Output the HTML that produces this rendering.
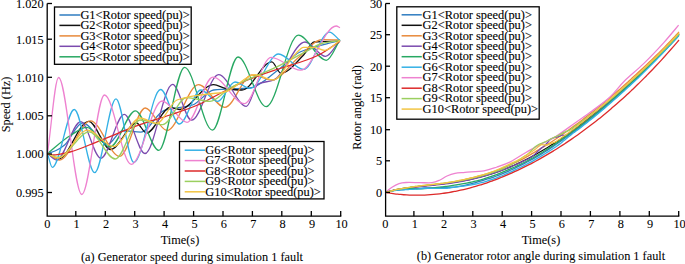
<!DOCTYPE html><html><head><meta charset="utf-8"><style>html,body{margin:0;padding:0;background:#fff;overflow:hidden}svg{display:block}</style></head><body>
<svg width="685" height="264" viewBox="0 0 685 264" font-family='"Liberation Serif", serif' font-size="12.3">
<rect width="685" height="264" fill="#fff"/>
<style>text{stroke:#000;stroke-width:0.06;} text.lg{stroke-width:0.12}</style>
<path d="M47.50,153.50 C50.33,152.50 53.17,151.79 56.00,150.50 C58.87,149.20 61.73,147.33 64.60,145.00 C70.57,140.15 76.53,122.80 82.50,122.80 C90.87,122.80 99.23,144.20 107.60,144.20 C112.63,144.20 117.67,130.60 122.70,130.60 C128.77,130.60 134.83,132.10 140.90,132.10 C148.67,132.10 156.43,112.78 164.20,110.30 C173.63,107.29 183.07,107.87 192.50,105.00 C199.57,102.85 206.63,90.78 213.70,90.00 C225.80,88.66 237.90,89.28 250.00,88.00 C259.27,87.02 268.53,76.89 277.80,70.20 C285.20,64.85 292.60,55.30 300.00,52.00 C313.33,46.05 326.67,44.33 340.00,40.50" fill="none" stroke="#2f7dc1" stroke-width="1.30" stroke-linejoin="round"/>
<path d="M47.50,153.50 C51.17,155.33 54.83,159.00 58.50,159.00 C68.58,159.00 78.67,121.30 88.75,121.30 C96.03,121.30 103.32,149.50 110.60,149.50 C119.20,149.50 127.80,123.00 136.40,123.00 C139.77,123.00 143.13,133.00 146.50,133.00 C154.43,133.00 162.37,107.30 170.30,107.30 C173.33,107.30 176.37,109.50 179.40,109.50 C190.83,109.50 202.27,84.70 213.70,84.70 C217.73,84.70 221.77,87.91 225.80,88.50 C231.20,89.29 236.60,90.00 242.00,90.00 C251.93,90.00 261.87,61.80 271.80,61.80 C274.83,61.80 277.87,73.20 280.90,73.20 C288.47,73.20 296.03,62.53 303.60,55.00 C307.13,51.48 310.67,42.25 314.20,42.00 C322.80,41.40 331.40,41.47 340.00,41.20" fill="none" stroke="#111111" stroke-width="1.30" stroke-linejoin="round"/>
<path d="M47.50,153.50 C51.50,155.67 55.50,160.00 59.50,160.00 C69.83,160.00 80.17,120.90 90.50,120.90 C100.23,120.90 109.97,156.40 119.70,156.40 C128.23,156.40 136.77,108.00 145.30,108.00 C152.53,108.00 159.77,130.50 167.00,130.50 C177.50,130.50 188.00,84.70 198.50,84.70 C207.27,84.70 216.03,107.30 224.80,107.30 C233.87,107.30 242.93,75.00 252.00,75.00 C258.67,75.00 265.33,80.00 272.00,80.00 C280.67,80.00 289.33,64.98 298.00,58.00 C305.93,51.61 313.87,39.70 321.80,39.70 C327.87,39.70 333.93,39.90 340.00,40.00" fill="none" stroke="#e8893a" stroke-width="1.30" stroke-linejoin="round"/>
<path d="M47.50,153.50 C50.50,155.67 53.50,160.00 56.50,160.00 C64.60,160.00 72.70,121.70 80.80,121.70 C87.47,121.70 94.13,158.30 100.80,158.30 C108.63,158.30 116.47,114.30 124.30,114.30 C131.20,114.30 138.10,153.50 145.00,153.50 C154.20,153.50 163.40,84.40 172.60,84.40 C178.90,84.40 185.20,120.20 191.50,120.20 C200.53,120.20 209.57,74.60 218.60,74.60 C227.87,74.60 237.13,106.40 246.40,106.40 C250.27,106.40 254.13,85.78 258.00,84.00 C263.33,81.54 268.67,82.07 274.00,80.00 C284.37,75.98 294.73,42.00 305.10,42.00 C311.93,42.00 318.77,56.40 325.60,56.40 C330.40,56.40 335.20,45.80 340.00,40.50" fill="none" stroke="#7b4aae" stroke-width="1.30" stroke-linejoin="round"/>
<path d="M47.50,153.50 C55.00,147.60 62.50,140.34 70.00,135.80 C75.60,132.41 81.20,127.40 86.80,127.40 C94.53,127.40 102.27,147.00 110.00,147.00 C118.50,147.00 127.00,110.80 135.50,110.80 C143.27,110.80 151.03,150.40 158.80,150.40 C167.40,150.40 176.00,67.30 184.60,67.30 C193.87,67.30 203.13,130.20 212.40,130.20 C220.93,130.20 229.47,57.00 238.00,57.00 C247.40,57.00 256.80,106.70 266.20,106.70 C276.90,106.70 287.60,35.20 298.30,35.20 C307.63,35.20 316.97,60.30 326.30,60.30 C330.87,60.30 335.43,46.77 340.00,40.00" fill="none" stroke="#27a862" stroke-width="1.30" stroke-linejoin="round"/>
<path d="M47.50,153.50 C49.10,158.10 50.70,167.30 52.30,167.30 C59.63,167.30 66.97,109.50 74.30,109.50 C81.10,109.50 87.90,172.60 94.70,172.60 C101.80,172.60 108.90,98.80 116.00,98.80 C121.97,98.80 127.93,162.50 133.90,162.50 C142.80,162.50 151.70,89.50 160.60,89.50 C166.87,89.50 173.13,124.00 179.40,124.00 C186.53,124.00 193.67,90.00 200.80,90.00 C206.43,90.00 212.07,101.40 217.70,101.40 C223.47,101.40 229.23,82.00 235.00,82.00 C240.07,82.00 245.13,88.40 250.20,88.40 C259.63,88.40 269.07,54.00 278.50,54.00 C286.87,54.00 295.23,69.40 303.60,69.40 C312.20,69.40 320.80,32.10 329.40,32.10 C332.93,32.10 336.47,37.70 340.00,40.50" fill="none" stroke="#33b0e5" stroke-width="1.30" stroke-linejoin="round"/>
<path d="M47.50,153.50 C51.20,128.17 54.90,77.50 58.60,77.50 C66.33,77.50 74.07,194.50 81.80,194.50 C89.37,194.50 96.93,95.00 104.50,95.00 C113.40,95.00 122.30,164.30 131.20,164.30 C141.50,164.30 151.80,101.00 162.10,101.00 C170.40,101.00 178.70,122.40 187.00,122.40 C195.63,122.40 204.27,77.10 212.90,77.10 C223.43,77.10 233.97,103.60 244.50,103.60 C253.33,103.60 262.17,57.30 271.00,57.30 C280.87,57.30 290.73,70.20 300.60,70.20 C312.47,70.20 324.33,26.00 336.20,26.00 C337.47,26.00 338.73,27.07 340.00,27.60" fill="none" stroke="#ee82d0" stroke-width="1.30" stroke-linejoin="round"/>
<path d="M47.50,153.50 C49.33,154.00 51.17,155.00 53.00,155.00 C58.67,155.00 64.33,153.33 70.00,152.00 C79.00,149.89 88.00,145.28 97.00,141.80 C111.33,136.26 125.67,129.78 140.00,124.70 C150.00,121.15 160.00,118.42 170.00,115.00 C179.20,111.85 188.40,108.92 197.60,105.00 C205.73,101.54 213.87,96.58 222.00,92.50 C230.33,88.32 238.67,83.66 247.00,80.20 C258.00,75.63 269.00,72.19 280.00,68.50 C288.87,65.53 297.73,63.23 306.60,60.00 C310.67,58.52 314.73,57.00 318.80,55.00 C325.87,51.52 332.93,45.80 340.00,41.20" fill="none" stroke="#dd2a2a" stroke-width="1.30" stroke-linejoin="round"/>
<path d="M47.50,153.50 C51.00,154.83 54.50,157.50 58.00,157.50 C68.43,157.50 78.87,131.90 89.30,131.90 C97.93,131.90 106.57,159.00 115.20,159.00 C123.47,159.00 131.73,120.00 140.00,120.00 C147.57,120.00 155.13,124.70 162.70,124.70 C170.60,124.70 178.50,97.60 186.40,97.60 C194.27,97.60 202.13,101.40 210.00,101.40 C216.67,101.40 223.33,91.70 230.00,88.00 C245.93,79.17 261.87,74.22 277.80,66.40 C287.93,61.43 298.07,55.49 308.20,50.30 C312.73,47.98 317.27,44.65 321.80,43.50 C327.87,41.96 333.93,41.50 340.00,40.50" fill="none" stroke="#9bcf5f" stroke-width="1.30" stroke-linejoin="round"/>
<path d="M47.50,153.50 C51.00,155.00 54.50,158.00 58.00,158.00 C67.87,158.00 77.73,130.20 87.60,130.20 C96.27,130.20 104.93,146.50 113.60,146.50 C122.40,146.50 131.20,118.00 140.00,118.00 C145.57,118.00 151.13,123.20 156.70,123.20 C163.47,123.20 170.23,102.51 177.00,100.00 C184.67,97.16 192.33,96.19 200.00,95.00 C208.33,93.71 216.67,93.62 225.00,92.00 C235.00,90.05 245.00,74.70 255.00,74.70 C261.10,74.70 267.20,80.00 273.30,80.00 C280.37,80.00 287.43,61.81 294.50,55.00 C297.53,52.08 300.57,47.30 303.60,47.30 C307.13,47.30 310.67,47.30 314.20,47.30 C317.73,47.30 321.27,50.30 324.80,50.30 C329.87,50.30 334.93,43.77 340.00,40.50" fill="none" stroke="#f2c443" stroke-width="1.30" stroke-linejoin="round"/>
<path d="M385.60,192.40 C386.10,192.27 387.60,191.84 388.60,191.60 C389.60,191.36 390.60,191.16 391.60,190.96 C392.60,190.77 393.60,190.61 394.60,190.46 C395.60,190.30 396.60,190.17 397.60,190.06 C398.60,189.94 399.60,189.84 400.60,189.74 C401.60,189.65 402.60,189.57 403.60,189.49 C404.60,189.41 405.60,189.35 406.60,189.28 C407.60,189.21 408.60,189.15 409.60,189.08 C410.60,189.02 411.60,188.96 412.60,188.89 C413.60,188.82 414.60,188.75 415.60,188.66 C416.60,188.58 417.60,188.49 418.60,188.40 C419.60,188.30 420.60,188.17 421.60,188.10 C422.60,188.02 423.60,187.97 424.60,187.94 C425.60,187.91 426.60,187.90 427.60,187.90 C428.60,187.90 429.60,187.91 430.60,187.92 C431.60,187.93 432.60,187.94 433.60,187.94 C434.60,187.94 435.60,187.94 436.60,187.92 C437.60,187.89 438.60,187.85 439.60,187.78 C440.60,187.71 441.60,187.57 442.60,187.49 C443.60,187.42 444.60,187.35 445.60,187.31 C446.60,187.27 447.60,187.28 448.60,187.27 C449.60,187.25 450.60,187.27 451.60,187.24 C452.60,187.21 453.60,187.18 454.60,187.09 C455.60,187.01 456.60,186.86 457.60,186.71 C458.60,186.56 459.60,186.37 460.60,186.18 C461.60,185.99 462.60,185.79 463.60,185.58 C464.60,185.36 465.60,185.14 466.60,184.91 C467.60,184.67 468.60,184.43 469.60,184.18 C470.60,183.92 471.60,183.66 472.60,183.40 C473.60,183.13 474.60,182.85 475.60,182.57 C476.60,182.29 477.60,182.00 478.60,181.71 C479.60,181.42 480.60,181.12 481.60,180.82 C482.60,180.52 483.60,180.21 484.60,179.91 C485.60,179.60 486.60,179.29 487.60,178.98 C488.60,178.68 489.60,178.37 490.60,178.05 C491.60,177.74 492.60,177.41 493.60,177.07 C494.60,176.73 495.60,176.38 496.60,176.01 C497.60,175.65 498.60,175.27 499.60,174.88 C500.60,174.49 501.60,174.09 502.60,173.68 C503.60,173.27 504.60,172.85 505.60,172.42 C506.60,171.99 507.60,171.55 508.60,171.10 C509.60,170.65 510.60,170.20 511.60,169.73 C512.60,169.27 513.60,168.80 514.60,168.32 C515.60,167.84 516.60,167.35 517.60,166.86 C518.60,166.37 519.60,165.87 520.60,165.36 C521.60,164.86 522.60,164.35 523.60,163.84 C524.60,163.33 525.60,162.81 526.60,162.29 C527.60,161.77 528.60,161.25 529.60,160.72 C530.60,160.19 531.60,159.65 532.60,159.11 C533.60,158.56 534.60,158.00 535.60,157.43 C536.60,156.85 537.60,156.27 538.60,155.68 C539.60,155.09 540.60,154.48 541.60,153.87 C542.60,153.25 543.60,152.63 544.60,152.00 C545.60,151.37 546.60,150.73 547.60,150.08 C548.60,149.43 549.60,148.77 550.60,148.10 C551.60,147.44 552.60,146.77 553.60,146.09 C554.60,145.41 555.60,144.72 556.60,144.03 C557.60,143.34 558.60,142.64 559.60,141.94 C560.60,141.24 561.60,140.53 562.60,139.82 C563.60,139.11 564.60,138.39 565.60,137.67 C566.60,136.95 567.60,136.23 568.60,135.50 C569.60,134.78 570.60,134.05 571.60,133.32 C572.60,132.59 573.60,131.86 574.60,131.12 C575.60,130.38 576.60,129.64 577.60,128.89 C578.60,128.14 579.60,127.38 580.60,126.62 C581.60,125.86 582.60,125.09 583.60,124.31 C584.60,123.53 585.60,122.75 586.60,121.96 C587.60,121.17 588.60,120.37 589.60,119.57 C590.60,118.77 591.60,117.96 592.60,117.15 C593.60,116.33 594.60,115.51 595.60,114.69 C596.60,113.86 597.60,113.03 598.60,112.20 C599.60,111.36 600.60,110.52 601.60,109.68 C602.60,108.83 603.60,107.98 604.60,107.13 C605.60,106.28 606.60,105.42 607.60,104.55 C608.60,103.69 609.60,102.82 610.60,101.95 C611.60,101.08 612.60,100.20 613.60,99.32 C614.60,98.44 615.60,97.56 616.60,96.67 C617.60,95.78 618.60,94.89 619.60,94.00 C620.60,93.10 621.60,92.20 622.60,91.30 C623.60,90.40 624.60,89.49 625.60,88.59 C626.60,87.68 627.60,86.77 628.60,85.85 C629.60,84.93 630.60,84.02 631.60,83.09 C632.60,82.16 633.60,81.23 634.60,80.29 C635.60,79.35 636.60,78.39 637.60,77.44 C638.60,76.48 639.60,75.52 640.60,74.54 C641.60,73.57 642.60,72.59 643.60,71.61 C644.60,70.62 645.60,69.63 646.60,68.63 C647.60,67.64 648.60,66.63 649.60,65.62 C650.60,64.61 651.60,63.60 652.60,62.57 C653.60,61.55 654.60,60.52 655.60,59.49 C656.60,58.46 657.60,57.42 658.60,56.38 C659.60,55.33 660.60,54.28 661.60,53.23 C662.60,52.18 663.60,51.12 664.60,50.05 C665.60,48.99 666.60,47.92 667.60,46.85 C668.60,45.78 669.60,44.70 670.60,43.61 C671.60,42.53 672.60,41.44 673.60,40.35 C674.60,39.26 675.70,38.05 676.60,37.06 C677.50,36.07 678.60,34.86 679.00,34.41" fill="none" stroke="#2f7dc1" stroke-width="1.30" stroke-linejoin="round"/>
<path d="M385.60,192.40 C386.10,192.26 387.60,191.83 388.60,191.56 C389.60,191.30 390.60,191.04 391.60,190.80 C392.60,190.56 393.60,190.33 394.60,190.12 C395.60,189.90 396.60,189.69 397.60,189.50 C398.60,189.30 399.60,189.11 400.60,188.93 C401.60,188.75 402.60,188.58 403.60,188.42 C404.60,188.26 405.60,188.10 406.60,187.95 C407.60,187.80 408.60,187.66 409.60,187.52 C410.60,187.38 411.60,187.25 412.60,187.12 C413.60,187.00 414.60,186.87 415.60,186.75 C416.60,186.63 417.60,186.52 418.60,186.40 C419.60,186.29 420.60,186.18 421.60,186.07 C422.60,185.96 423.60,185.85 424.60,185.75 C425.60,185.64 426.60,185.54 427.60,185.43 C428.60,185.33 429.60,185.22 430.60,185.12 C431.60,185.01 432.60,184.90 433.60,184.80 C434.60,184.69 435.60,184.58 436.60,184.47 C437.60,184.36 438.60,184.25 439.60,184.14 C440.60,184.02 441.60,183.91 442.60,183.79 C443.60,183.67 444.60,183.55 445.60,183.42 C446.60,183.29 447.60,183.17 448.60,183.03 C449.60,182.90 450.60,182.76 451.60,182.62 C452.60,182.48 453.60,182.33 454.60,182.18 C455.60,182.03 456.60,181.87 457.60,181.71 C458.60,181.55 459.60,181.39 460.60,181.21 C461.60,181.04 462.60,180.86 463.60,180.68 C464.60,180.50 465.60,180.31 466.60,180.11 C467.60,179.91 468.60,179.71 469.60,179.50 C470.60,179.29 471.60,179.08 472.60,178.85 C473.60,178.63 474.60,178.40 475.60,178.17 C476.60,177.93 477.60,177.68 478.60,177.43 C479.60,177.18 480.60,176.92 481.60,176.66 C482.60,176.39 483.60,176.12 484.60,175.84 C485.60,175.56 486.60,175.27 487.60,174.97 C488.60,174.67 489.60,174.37 490.60,174.06 C491.60,173.74 492.60,173.42 493.60,173.09 C494.60,172.76 495.60,172.43 496.60,172.08 C497.60,171.74 498.60,171.39 499.60,171.02 C500.60,170.66 501.60,170.29 502.60,169.92 C503.60,169.54 504.60,169.15 505.60,168.76 C506.60,168.36 507.60,167.96 508.60,167.55 C509.60,167.14 510.60,166.72 511.60,166.29 C512.60,165.87 513.60,165.43 514.60,164.99 C515.60,164.54 516.60,164.09 517.60,163.63 C518.60,163.17 519.60,162.70 520.60,162.22 C521.60,161.75 522.60,161.26 523.60,160.77 C524.60,160.28 525.60,159.78 526.60,159.27 C527.60,158.76 528.60,158.24 529.60,157.72 C530.60,157.19 531.60,156.66 532.60,156.12 C533.60,155.58 534.60,155.03 535.60,154.47 C536.60,153.91 537.60,153.35 538.60,152.78 C539.60,152.21 540.60,151.63 541.60,151.04 C542.60,150.45 543.60,149.86 544.60,149.26 C545.60,148.65 546.60,148.04 547.60,147.43 C548.60,146.81 549.60,146.19 550.60,145.56 C551.60,144.93 552.60,144.29 553.60,143.64 C554.60,143.00 555.60,142.35 556.60,141.69 C557.60,141.03 558.60,140.36 559.60,139.69 C560.60,139.02 561.60,138.34 562.60,137.65 C563.60,136.97 564.60,136.28 565.60,135.58 C566.60,134.88 567.60,134.17 568.60,133.46 C569.60,132.75 570.60,132.03 571.60,131.31 C572.60,130.59 573.60,129.86 574.60,129.12 C575.60,128.39 576.60,127.65 577.60,126.90 C578.60,126.15 579.60,125.40 580.60,124.64 C581.60,123.88 582.60,123.12 583.60,122.35 C584.60,121.58 585.60,120.80 586.60,120.02 C587.60,119.24 588.60,118.45 589.60,117.66 C590.60,116.87 591.60,116.08 592.60,115.27 C593.60,114.47 594.60,113.67 595.60,112.85 C596.60,112.04 597.60,111.22 598.60,110.40 C599.60,109.58 600.60,108.75 601.60,107.92 C602.60,107.09 603.60,106.26 604.60,105.41 C605.60,104.57 606.60,103.73 607.60,102.88 C608.60,102.03 609.60,101.17 610.60,100.31 C611.60,99.45 612.60,98.59 613.60,97.72 C614.60,96.85 615.60,95.98 616.60,95.10 C617.60,94.22 618.60,93.34 619.60,92.45 C620.60,91.57 621.60,90.67 622.60,89.78 C623.60,88.88 624.60,87.98 625.60,87.08 C626.60,86.17 627.60,85.26 628.60,84.35 C629.60,83.44 630.60,82.52 631.60,81.59 C632.60,80.67 633.60,79.74 634.60,78.81 C635.60,77.88 636.60,76.94 637.60,76.00 C638.60,75.06 639.60,74.12 640.60,73.16 C641.60,72.21 642.60,71.26 643.60,70.30 C644.60,69.34 645.60,68.37 646.60,67.40 C647.60,66.43 648.60,65.46 649.60,64.47 C650.60,63.49 651.60,62.51 652.60,61.52 C653.60,60.52 654.60,59.53 655.60,58.53 C656.60,57.52 657.60,56.52 658.60,55.50 C659.60,54.49 660.60,53.47 661.60,52.44 C662.60,51.42 663.60,50.38 664.60,49.35 C665.60,48.31 666.60,47.26 667.60,46.21 C668.60,45.16 669.60,44.10 670.60,43.04 C671.60,41.97 672.60,40.90 673.60,39.82 C674.60,38.74 675.70,37.54 676.60,36.56 C677.50,35.57 678.60,34.35 679.00,33.91" fill="none" stroke="#111111" stroke-width="1.30" stroke-linejoin="round"/>
<path d="M385.60,192.40 C386.10,192.26 387.60,191.83 388.60,191.56 C389.60,191.30 390.60,191.04 391.60,190.80 C392.60,190.56 393.60,190.33 394.60,190.12 C395.60,189.90 396.60,189.69 397.60,189.50 C398.60,189.30 399.60,189.11 400.60,188.93 C401.60,188.75 402.60,188.58 403.60,188.42 C404.60,188.26 405.60,188.10 406.60,187.95 C407.60,187.80 408.60,187.66 409.60,187.52 C410.60,187.38 411.60,187.25 412.60,187.12 C413.60,187.00 414.60,186.87 415.60,186.75 C416.60,186.63 417.60,186.52 418.60,186.40 C419.60,186.29 420.60,186.18 421.60,186.07 C422.60,185.96 423.60,185.85 424.60,185.75 C425.60,185.64 426.60,185.54 427.60,185.43 C428.60,185.33 429.60,185.22 430.60,185.12 C431.60,185.01 432.60,184.90 433.60,184.80 C434.60,184.69 435.60,184.58 436.60,184.47 C437.60,184.36 438.60,184.25 439.60,184.14 C440.60,184.02 441.60,183.90 442.60,183.77 C443.60,183.64 444.60,183.51 445.60,183.36 C446.60,183.21 447.60,183.06 448.60,182.89 C449.60,182.73 450.60,182.56 451.60,182.38 C452.60,182.20 453.60,182.01 454.60,181.82 C455.60,181.63 456.60,181.43 457.60,181.22 C458.60,181.01 459.60,180.80 460.60,180.58 C461.60,180.36 462.60,180.13 463.60,179.90 C464.60,179.67 465.60,179.44 466.60,179.19 C467.60,178.95 468.60,178.70 469.60,178.45 C470.60,178.20 471.60,177.95 472.60,177.69 C473.60,177.43 474.60,177.16 475.60,176.90 C476.60,176.63 477.60,176.36 478.60,176.09 C479.60,175.82 480.60,175.55 481.60,175.27 C482.60,174.99 483.60,174.72 484.60,174.44 C485.60,174.15 486.60,173.86 487.60,173.55 C488.60,173.24 489.60,172.93 490.60,172.60 C491.60,172.27 492.60,171.93 493.60,171.58 C494.60,171.23 495.60,170.87 496.60,170.50 C497.60,170.13 498.60,169.75 499.60,169.36 C500.60,168.97 501.60,168.58 502.60,168.17 C503.60,167.77 504.60,167.36 505.60,166.94 C506.60,166.52 507.60,166.09 508.60,165.66 C509.60,165.23 510.60,164.79 511.60,164.35 C512.60,163.91 513.60,163.46 514.60,163.00 C515.60,162.55 516.60,162.10 517.60,161.63 C518.60,161.16 519.60,160.69 520.60,160.19 C521.60,159.68 522.60,159.15 523.60,158.61 C524.60,158.07 525.60,157.50 526.60,156.93 C527.60,156.36 528.60,155.77 529.60,155.17 C530.60,154.58 531.60,153.98 532.60,153.38 C533.60,152.78 534.60,152.17 535.60,151.57 C536.60,150.98 537.60,150.38 538.60,149.79 C539.60,149.20 540.60,148.63 541.60,148.04 C542.60,147.44 543.60,146.84 544.60,146.23 C545.60,145.62 546.60,145.00 547.60,144.37 C548.60,143.74 549.60,143.10 550.60,142.45 C551.60,141.80 552.60,141.14 553.60,140.47 C554.60,139.81 555.60,139.14 556.60,138.46 C557.60,137.78 558.60,137.09 559.60,136.40 C560.60,135.70 561.60,135.00 562.60,134.30 C563.60,133.59 564.60,132.88 565.60,132.17 C566.60,131.45 567.60,130.73 568.60,130.01 C569.60,129.28 570.60,128.55 571.60,127.82 C572.60,127.09 573.60,126.36 574.60,125.62 C575.60,124.89 576.60,124.15 577.60,123.40 C578.60,122.66 579.60,121.91 580.60,121.15 C581.60,120.40 582.60,119.64 583.60,118.88 C584.60,118.12 585.60,117.35 586.60,116.58 C587.60,115.81 588.60,115.03 589.60,114.25 C590.60,113.47 591.60,112.68 592.60,111.89 C593.60,111.10 594.60,110.31 595.60,109.51 C596.60,108.71 597.60,107.91 598.60,107.10 C599.60,106.29 600.60,105.48 601.60,104.66 C602.60,103.84 603.60,103.02 604.60,102.19 C605.60,101.37 606.60,100.53 607.60,99.70 C608.60,98.86 609.60,98.02 610.60,97.17 C611.60,96.32 612.60,95.47 613.60,94.61 C614.60,93.76 615.60,92.89 616.60,92.02 C617.60,91.16 618.60,90.28 619.60,89.41 C620.60,88.53 621.60,87.64 622.60,86.75 C623.60,85.86 624.60,84.97 625.60,84.07 C626.60,83.17 627.60,82.26 628.60,81.35 C629.60,80.44 630.60,79.52 631.60,78.60 C632.60,77.68 633.60,76.76 634.60,75.84 C635.60,74.92 636.60,73.99 637.60,73.07 C638.60,72.14 639.60,71.21 640.60,70.28 C641.60,69.35 642.60,68.42 643.60,67.49 C644.60,66.55 645.60,65.61 646.60,64.67 C647.60,63.72 648.60,62.78 649.60,61.83 C650.60,60.87 651.60,59.92 652.60,58.96 C653.60,58.00 654.60,57.03 655.60,56.06 C656.60,55.09 657.60,54.11 658.60,53.13 C659.60,52.14 660.60,51.15 661.60,50.15 C662.60,49.16 663.60,48.15 664.60,47.14 C665.60,46.12 666.60,45.10 667.60,44.07 C668.60,43.04 669.60,42.01 670.60,40.96 C671.60,39.91 672.60,38.85 673.60,37.79 C674.60,36.72 675.70,35.53 676.60,34.55 C677.50,33.57 678.60,32.35 679.00,31.91" fill="none" stroke="#e8893a" stroke-width="1.30" stroke-linejoin="round"/>
<path d="M385.60,192.40 C386.10,192.26 387.60,191.83 388.60,191.57 C389.60,191.30 390.60,191.06 391.60,190.82 C392.60,190.58 393.60,190.36 394.60,190.15 C395.60,189.94 396.60,189.75 397.60,189.56 C398.60,189.37 399.60,189.19 400.60,189.02 C401.60,188.86 402.60,188.70 403.60,188.55 C404.60,188.40 405.60,188.25 406.60,188.12 C407.60,187.98 408.60,187.85 409.60,187.73 C410.60,187.60 411.60,187.49 412.60,187.37 C413.60,187.26 414.60,187.15 415.60,187.04 C416.60,186.94 417.60,186.83 418.60,186.73 C419.60,186.63 420.60,186.54 421.60,186.44 C422.60,186.34 423.60,186.25 424.60,186.15 C425.60,186.05 426.60,185.96 427.60,185.87 C428.60,185.77 429.60,185.67 430.60,185.58 C431.60,185.48 432.60,185.38 433.60,185.28 C434.60,185.18 435.60,185.07 436.60,184.97 C437.60,184.86 438.60,184.75 439.60,184.64 C440.60,184.52 441.60,184.41 442.60,184.29 C443.60,184.16 444.60,184.04 445.60,183.91 C446.60,183.78 447.60,183.64 448.60,183.50 C449.60,183.37 450.60,183.22 451.60,183.07 C452.60,182.92 453.60,182.77 454.60,182.61 C455.60,182.45 456.60,182.28 457.60,182.11 C458.60,181.94 459.60,181.76 460.60,181.58 C461.60,181.39 462.60,181.20 463.60,181.01 C464.60,180.81 465.60,180.61 466.60,180.40 C467.60,180.19 468.60,179.98 469.60,179.76 C470.60,179.54 471.60,179.31 472.60,179.07 C473.60,178.84 474.60,178.59 475.60,178.35 C476.60,178.10 477.60,177.84 478.60,177.58 C479.60,177.32 480.60,177.05 481.60,176.77 C482.60,176.49 483.60,176.21 484.60,175.92 C485.60,175.63 486.60,175.33 487.60,175.02 C488.60,174.72 489.60,174.41 490.60,174.09 C491.60,173.77 492.60,173.44 493.60,173.11 C494.60,172.78 495.60,172.44 496.60,172.09 C497.60,171.74 498.60,171.38 499.60,171.02 C500.60,170.66 501.60,170.30 502.60,169.93 C503.60,169.56 504.60,169.18 505.60,168.80 C506.60,168.42 507.60,168.04 508.60,167.65 C509.60,167.26 510.60,166.86 511.60,166.46 C512.60,166.06 513.60,165.65 514.60,165.23 C515.60,164.81 516.60,164.38 517.60,163.94 C518.60,163.51 519.60,163.06 520.60,162.61 C521.60,162.15 522.60,161.69 523.60,161.21 C524.60,160.73 525.60,160.25 526.60,159.75 C527.60,159.25 528.60,158.80 529.60,158.22 C530.60,157.63 531.60,157.02 532.60,156.24 C533.60,155.46 534.60,154.48 535.60,153.53 C536.60,152.59 537.60,151.52 538.60,150.57 C539.60,149.63 540.60,148.68 541.60,147.87 C542.60,147.06 543.60,146.62 544.60,145.72 C545.60,144.82 546.60,143.53 547.60,142.46 C548.60,141.40 549.60,140.08 550.60,139.31 C551.60,138.53 552.60,138.18 553.60,137.82 C554.60,137.47 555.60,137.45 556.60,137.17 C557.60,136.89 558.60,136.49 559.60,136.14 C560.60,135.80 561.60,135.21 562.60,135.10 C563.60,134.98 564.60,135.58 565.60,135.46 C566.60,135.34 567.60,134.91 568.60,134.36 C569.60,133.82 570.60,132.93 571.60,132.20 C572.60,131.47 573.60,130.73 574.60,129.98 C575.60,129.24 576.60,128.48 577.60,127.72 C578.60,126.96 579.60,126.18 580.60,125.41 C581.60,124.63 582.60,123.84 583.60,123.05 C584.60,122.26 585.60,121.46 586.60,120.66 C587.60,119.85 588.60,119.04 589.60,118.23 C590.60,117.41 591.60,116.59 592.60,115.76 C593.60,114.93 594.60,114.10 595.60,113.26 C596.60,112.42 597.60,111.58 598.60,110.73 C599.60,109.89 600.60,109.04 601.60,108.18 C602.60,107.33 603.60,106.47 604.60,105.60 C605.60,104.74 606.60,103.88 607.60,103.01 C608.60,102.14 609.60,101.26 610.60,100.39 C611.60,99.51 612.60,98.64 613.60,97.76 C614.60,96.88 615.60,95.99 616.60,95.11 C617.60,94.23 618.60,93.34 619.60,92.45 C620.60,91.56 621.60,90.67 622.60,89.78 C623.60,88.88 624.60,87.97 625.60,87.06 C626.60,86.16 627.60,85.24 628.60,84.32 C629.60,83.40 630.60,82.47 631.60,81.54 C632.60,80.61 633.60,79.68 634.60,78.74 C635.60,77.79 636.60,76.85 637.60,75.90 C638.60,74.94 639.60,73.99 640.60,73.02 C641.60,72.06 642.60,71.09 643.60,70.12 C644.60,69.15 645.60,68.17 646.60,67.19 C647.60,66.20 648.60,65.22 649.60,64.22 C650.60,63.23 651.60,62.23 652.60,61.23 C653.60,60.22 654.60,59.21 655.60,58.20 C656.60,57.18 657.60,56.16 658.60,55.14 C659.60,54.11 660.60,53.08 661.60,52.05 C662.60,51.01 663.60,49.97 664.60,48.92 C665.60,47.87 666.60,46.82 667.60,45.76 C668.60,44.70 669.60,43.64 670.60,42.56 C671.60,41.49 672.60,40.42 673.60,39.33 C674.60,38.25 675.70,37.05 676.60,36.06 C677.50,35.07 678.60,33.85 679.00,33.41" fill="none" stroke="#7b4aae" stroke-width="1.30" stroke-linejoin="round"/>
<path d="M385.60,192.40 C386.10,192.27 387.60,191.85 388.60,191.62 C389.60,191.38 390.60,191.18 391.60,190.99 C392.60,190.80 393.60,190.63 394.60,190.46 C395.60,190.29 396.60,190.13 397.60,189.96 C398.60,189.79 399.60,189.59 400.60,189.44 C401.60,189.28 402.60,189.14 403.60,189.03 C404.60,188.93 405.60,188.86 406.60,188.80 C407.60,188.75 408.60,188.72 409.60,188.70 C410.60,188.68 411.60,188.69 412.60,188.69 C413.60,188.69 414.60,188.71 415.60,188.72 C416.60,188.73 417.60,188.75 418.60,188.75 C419.60,188.75 420.60,188.76 421.60,188.74 C422.60,188.72 423.60,188.70 424.60,188.65 C425.60,188.59 426.60,188.52 427.60,188.43 C428.60,188.34 429.60,188.22 430.60,188.12 C431.60,188.01 432.60,187.90 433.60,187.80 C434.60,187.69 435.60,187.58 436.60,187.47 C437.60,187.36 438.60,187.25 439.60,187.14 C440.60,187.02 441.60,186.91 442.60,186.79 C443.60,186.67 444.60,186.55 445.60,186.42 C446.60,186.29 447.60,186.17 448.60,186.03 C449.60,185.90 450.60,185.76 451.60,185.62 C452.60,185.48 453.60,185.33 454.60,185.18 C455.60,185.03 456.60,184.87 457.60,184.71 C458.60,184.55 459.60,184.39 460.60,184.21 C461.60,184.04 462.60,183.86 463.60,183.68 C464.60,183.50 465.60,183.31 466.60,183.11 C467.60,182.91 468.60,182.71 469.60,182.50 C470.60,182.29 471.60,182.08 472.60,181.85 C473.60,181.62 474.60,181.38 475.60,181.13 C476.60,180.88 477.60,180.62 478.60,180.35 C479.60,180.09 480.60,179.81 481.60,179.52 C482.60,179.23 483.60,178.94 484.60,178.63 C485.60,178.32 486.60,178.01 487.60,177.69 C488.60,177.36 489.60,177.03 490.60,176.69 C491.60,176.34 492.60,175.99 493.60,175.64 C494.60,175.28 495.60,174.91 496.60,174.54 C497.60,174.16 498.60,173.78 499.60,173.39 C500.60,173.00 501.60,172.60 502.60,172.19 C503.60,171.79 504.60,171.38 505.60,170.96 C506.60,170.54 507.60,170.11 508.60,169.68 C509.60,169.25 510.60,168.81 511.60,168.37 C512.60,167.92 513.60,167.47 514.60,167.02 C515.60,166.56 516.60,166.10 517.60,165.64 C518.60,165.17 519.60,164.70 520.60,164.22 C521.60,163.74 522.60,163.26 523.60,162.76 C524.60,162.26 525.60,161.75 526.60,161.23 C527.60,160.70 528.60,160.17 529.60,159.63 C530.60,159.09 531.60,158.54 532.60,157.98 C533.60,157.42 534.60,156.85 535.60,156.27 C536.60,155.69 537.60,155.10 538.60,154.50 C539.60,153.91 540.60,153.30 541.60,152.69 C542.60,152.07 543.60,151.45 544.60,150.82 C545.60,150.19 546.60,149.56 547.60,148.91 C548.60,148.27 549.60,147.62 550.60,146.96 C551.60,146.30 552.60,145.63 553.60,144.96 C554.60,144.29 555.60,143.61 556.60,142.93 C557.60,142.25 558.60,141.56 559.60,140.87 C560.60,140.17 561.60,139.47 562.60,138.77 C563.60,138.06 564.60,137.35 565.60,136.64 C566.60,135.93 567.60,135.21 568.60,134.49 C569.60,133.77 570.60,133.04 571.60,132.32 C572.60,131.59 573.60,130.86 574.60,130.12 C575.60,129.39 576.60,128.65 577.60,127.90 C578.60,127.15 579.60,126.40 580.60,125.64 C581.60,124.88 582.60,124.12 583.60,123.35 C584.60,122.58 585.60,121.80 586.60,121.02 C587.60,120.24 588.60,119.45 589.60,118.66 C590.60,117.87 591.60,117.08 592.60,116.27 C593.60,115.47 594.60,114.67 595.60,113.85 C596.60,113.04 597.60,112.22 598.60,111.40 C599.60,110.58 600.60,109.75 601.60,108.92 C602.60,108.09 603.60,107.26 604.60,106.41 C605.60,105.57 606.60,104.73 607.60,103.88 C608.60,103.03 609.60,102.17 610.60,101.31 C611.60,100.45 612.60,99.59 613.60,98.72 C614.60,97.85 615.60,96.98 616.60,96.10 C617.60,95.22 618.60,94.34 619.60,93.45 C620.60,92.57 621.60,91.67 622.60,90.78 C623.60,89.88 624.60,88.98 625.60,88.08 C626.60,87.17 627.60,86.26 628.60,85.35 C629.60,84.44 630.60,83.52 631.60,82.60 C632.60,81.68 633.60,80.75 634.60,79.82 C635.60,78.90 636.60,77.97 637.60,77.03 C638.60,76.10 639.60,75.16 640.60,74.22 C641.60,73.28 642.60,72.34 643.60,71.39 C644.60,70.44 645.60,69.49 646.60,68.53 C647.60,67.58 648.60,66.62 649.60,65.65 C650.60,64.68 651.60,63.71 652.60,62.74 C653.60,61.76 654.60,60.78 655.60,59.79 C656.60,58.81 657.60,57.81 658.60,56.81 C659.60,55.81 660.60,54.81 661.60,53.80 C662.60,52.79 663.60,51.77 664.60,50.74 C665.60,49.72 666.60,48.68 667.60,47.64 C668.60,46.60 669.60,45.55 670.60,44.50 C671.60,43.44 672.60,42.38 673.60,41.30 C674.60,40.23 675.70,39.04 676.60,38.05 C677.50,37.07 678.60,35.85 679.00,35.41" fill="none" stroke="#27a862" stroke-width="1.30" stroke-linejoin="round"/>
<path d="M385.60,192.40 C386.10,192.27 387.60,191.85 388.60,191.62 C389.60,191.38 390.60,191.18 391.60,191.00 C392.60,190.83 393.60,190.67 394.60,190.54 C395.60,190.41 396.60,190.29 397.60,190.20 C398.60,190.10 399.60,190.02 400.60,189.94 C401.60,189.87 402.60,189.81 403.60,189.76 C404.60,189.70 405.60,189.66 406.60,189.61 C407.60,189.56 408.60,189.52 409.60,189.47 C410.60,189.43 411.60,189.38 412.60,189.33 C413.60,189.27 414.60,189.21 415.60,189.14 C416.60,189.07 417.60,188.98 418.60,188.89 C419.60,188.80 420.60,188.67 421.60,188.59 C422.60,188.51 423.60,188.45 424.60,188.41 C425.60,188.36 426.60,188.34 427.60,188.33 C428.60,188.32 429.60,188.32 430.60,188.33 C431.60,188.34 432.60,188.36 433.60,188.37 C434.60,188.39 435.60,188.41 436.60,188.42 C437.60,188.43 438.60,188.45 439.60,188.44 C440.60,188.44 441.60,188.43 442.60,188.41 C443.60,188.38 444.60,188.34 445.60,188.27 C446.60,188.21 447.60,188.12 448.60,188.02 C449.60,187.91 450.60,187.76 451.60,187.63 C452.60,187.50 453.60,187.36 454.60,187.23 C455.60,187.10 456.60,186.97 457.60,186.84 C458.60,186.71 459.60,186.58 460.60,186.44 C461.60,186.31 462.60,186.17 463.60,186.03 C464.60,185.89 465.60,185.74 466.60,185.59 C467.60,185.44 468.60,185.28 469.60,185.12 C470.60,184.95 471.60,184.78 472.60,184.59 C473.60,184.41 474.60,184.22 475.60,184.01 C476.60,183.81 477.60,183.59 478.60,183.37 C479.60,183.14 480.60,182.90 481.60,182.64 C482.60,182.39 483.60,182.12 484.60,181.84 C485.60,181.55 486.60,181.26 487.60,180.95 C488.60,180.64 489.60,180.32 490.60,179.99 C491.60,179.65 492.60,179.31 493.60,178.95 C494.60,178.60 495.60,178.23 496.60,177.86 C497.60,177.48 498.60,177.10 499.60,176.70 C500.60,176.30 501.60,175.90 502.60,175.48 C503.60,175.07 504.60,174.65 505.60,174.22 C506.60,173.79 507.60,173.35 508.60,172.90 C509.60,172.46 510.60,172.00 511.60,171.54 C512.60,171.08 513.60,170.62 514.60,170.15 C515.60,169.68 516.60,169.20 517.60,168.72 C518.60,168.23 519.60,167.75 520.60,167.26 C521.60,166.77 522.60,166.27 523.60,165.77 C524.60,165.27 525.60,164.78 526.60,164.26 C527.60,163.75 528.60,163.23 529.60,162.69 C530.60,162.16 531.60,161.61 532.60,161.06 C533.60,160.50 534.60,159.94 535.60,159.36 C536.60,158.79 537.60,158.21 538.60,157.61 C539.60,157.02 540.60,156.42 541.60,155.82 C542.60,155.21 543.60,154.60 544.60,153.98 C545.60,153.36 546.60,152.73 547.60,152.10 C548.60,151.47 549.60,150.83 550.60,150.19 C551.60,149.55 552.60,148.90 553.60,148.25 C554.60,147.60 555.60,146.97 556.60,146.28 C557.60,145.59 558.60,144.88 559.60,144.12 C560.60,143.37 561.60,142.57 562.60,141.77 C563.60,140.96 564.60,140.12 565.60,139.30 C566.60,138.47 567.60,137.63 568.60,136.81 C569.60,135.99 570.60,135.17 571.60,134.39 C572.60,133.61 573.60,132.87 574.60,132.12 C575.60,131.37 576.60,130.64 577.60,129.89 C578.60,129.14 579.60,128.38 580.60,127.62 C581.60,126.86 582.60,126.09 583.60,125.31 C584.60,124.53 585.60,123.75 586.60,122.96 C587.60,122.17 588.60,121.37 589.60,120.57 C590.60,119.77 591.60,118.96 592.60,118.15 C593.60,117.33 594.60,116.51 595.60,115.69 C596.60,114.86 597.60,114.03 598.60,113.20 C599.60,112.36 600.60,111.52 601.60,110.68 C602.60,109.83 603.60,108.98 604.60,108.13 C605.60,107.28 606.60,106.42 607.60,105.55 C608.60,104.69 609.60,103.82 610.60,102.95 C611.60,102.08 612.60,101.20 613.60,100.32 C614.60,99.44 615.60,98.56 616.60,97.67 C617.60,96.78 618.60,95.89 619.60,95.00 C620.60,94.10 621.60,93.20 622.60,92.30 C623.60,91.40 624.60,90.49 625.60,89.59 C626.60,88.68 627.60,87.77 628.60,86.85 C629.60,85.93 630.60,85.02 631.60,84.09 C632.60,83.16 633.60,82.23 634.60,81.29 C635.60,80.35 636.60,79.39 637.60,78.44 C638.60,77.48 639.60,76.52 640.60,75.54 C641.60,74.57 642.60,73.59 643.60,72.61 C644.60,71.62 645.60,70.63 646.60,69.63 C647.60,68.64 648.60,67.63 649.60,66.62 C650.60,65.61 651.60,64.60 652.60,63.57 C653.60,62.55 654.60,61.52 655.60,60.49 C656.60,59.46 657.60,58.42 658.60,57.38 C659.60,56.33 660.60,55.28 661.60,54.23 C662.60,53.18 663.60,52.12 664.60,51.05 C665.60,49.99 666.60,48.92 667.60,47.85 C668.60,46.78 669.60,45.70 670.60,44.61 C671.60,43.53 672.60,42.44 673.60,41.35 C674.60,40.26 675.70,39.05 676.60,38.06 C677.50,37.07 678.60,35.86 679.00,35.41" fill="none" stroke="#33b0e5" stroke-width="1.30" stroke-linejoin="round"/>
<path d="M385.60,192.40 C386.67,191.53 389.77,188.67 392.00,187.20 C394.23,185.73 396.67,184.38 399.00,183.60 C401.33,182.82 402.50,182.67 406.00,182.50 C409.50,182.33 415.67,182.57 420.00,182.60 C424.33,182.63 428.67,183.13 432.00,182.70 C435.33,182.27 437.50,181.12 440.00,180.00 C442.50,178.88 444.50,177.12 447.00,176.00 C449.50,174.88 452.00,173.92 455.00,173.30 C458.00,172.68 460.17,172.70 465.00,172.30 C469.83,171.90 478.67,171.78 484.00,170.90 C489.33,170.02 492.62,168.52 497.00,167.00 C501.38,165.48 505.55,164.18 510.30,161.80 C515.05,159.42 520.45,155.60 525.50,152.70 C530.55,149.80 535.55,147.10 540.60,144.40 C545.65,141.70 550.07,140.07 555.80,136.50 C561.53,132.93 568.97,127.25 575.00,123.00 C581.03,118.75 586.17,115.33 592.00,111.00 C597.83,106.67 604.67,101.92 610.00,97.00 C615.33,92.08 618.35,87.10 624.00,81.50 C629.65,75.90 637.27,69.88 643.90,63.40 C650.53,56.92 658.02,48.97 663.80,42.60 C669.58,36.23 676.13,28.10 678.60,25.20" fill="none" stroke="#ee82d0" stroke-width="1.30" stroke-linejoin="round"/>
<path d="M385.60,192.40 C386.10,192.49 387.60,192.76 388.60,192.93 C389.60,193.09 390.60,193.25 391.60,193.40 C392.60,193.54 393.60,193.68 394.60,193.81 C395.60,193.94 396.60,194.06 397.60,194.17 C398.60,194.28 399.60,194.38 400.60,194.47 C401.60,194.57 402.60,194.65 403.60,194.73 C404.60,194.80 405.60,194.87 406.60,194.92 C407.60,194.98 408.60,195.03 409.60,195.07 C410.60,195.11 411.60,195.14 412.60,195.17 C413.60,195.19 414.60,195.20 415.60,195.21 C416.60,195.22 417.60,195.22 418.60,195.21 C419.60,195.20 420.60,195.18 421.60,195.15 C422.60,195.12 423.60,195.09 424.60,195.05 C425.60,195.00 426.60,194.95 427.60,194.89 C428.60,194.84 429.60,194.77 430.60,194.70 C431.60,194.62 432.60,194.54 433.60,194.45 C434.60,194.36 435.60,194.26 436.60,194.16 C437.60,194.05 438.60,193.94 439.60,193.82 C440.60,193.70 441.60,193.57 442.60,193.43 C443.60,193.30 444.60,193.15 445.60,193.00 C446.60,192.85 447.60,192.69 448.60,192.53 C449.60,192.36 450.60,192.19 451.60,192.01 C452.60,191.83 453.60,191.64 454.60,191.45 C455.60,191.26 456.60,191.05 457.60,190.85 C458.60,190.64 459.60,190.42 460.60,190.20 C461.60,189.98 462.60,189.75 463.60,189.51 C464.60,189.27 465.60,189.03 466.60,188.78 C467.60,188.53 468.60,188.27 469.60,188.01 C470.60,187.74 471.60,187.47 472.60,187.20 C473.60,186.92 474.60,186.63 475.60,186.34 C476.60,186.05 477.60,185.75 478.60,185.45 C479.60,185.15 480.60,184.83 481.60,184.52 C482.60,184.20 483.60,183.87 484.60,183.54 C485.60,183.21 486.60,182.88 487.60,182.53 C488.60,182.19 489.60,181.84 490.60,181.48 C491.60,181.13 492.60,180.76 493.60,180.39 C494.60,180.02 495.60,179.65 496.60,179.27 C497.60,178.88 498.60,178.49 499.60,178.10 C500.60,177.70 501.60,177.30 502.60,176.90 C503.60,176.49 504.60,176.07 505.60,175.65 C506.60,175.23 507.60,174.81 508.60,174.38 C509.60,173.94 510.60,173.51 511.60,173.06 C512.60,172.62 513.60,172.17 514.60,171.71 C515.60,171.25 516.60,170.79 517.60,170.32 C518.60,169.85 519.60,169.37 520.60,168.89 C521.60,168.41 522.60,167.92 523.60,167.43 C524.60,166.94 525.60,166.44 526.60,165.93 C527.60,165.42 528.60,164.91 529.60,164.39 C530.60,163.88 531.60,163.35 532.60,162.82 C533.60,162.29 534.60,161.76 535.60,161.21 C536.60,160.67 537.60,160.12 538.60,159.57 C539.60,159.02 540.60,158.46 541.60,157.89 C542.60,157.32 543.60,156.75 544.60,156.17 C545.60,155.59 546.60,155.01 547.60,154.42 C548.60,153.83 549.60,153.23 550.60,152.63 C551.60,152.03 552.60,151.42 553.60,150.81 C554.60,150.19 555.60,149.57 556.60,148.95 C557.60,148.32 558.60,147.69 559.60,147.05 C560.60,146.41 561.60,145.77 562.60,145.12 C563.60,144.47 564.60,143.81 565.60,143.15 C566.60,142.49 567.60,141.82 568.60,141.14 C569.60,140.47 570.60,139.79 571.60,139.10 C572.60,138.41 573.60,137.72 574.60,137.02 C575.60,136.32 576.60,135.62 577.60,134.91 C578.60,134.20 579.60,133.48 580.60,132.76 C581.60,132.03 582.60,131.30 583.60,130.57 C584.60,129.83 585.60,129.09 586.60,128.34 C587.60,127.59 588.60,126.84 589.60,126.08 C590.60,125.32 591.60,124.55 592.60,123.78 C593.60,123.01 594.60,122.23 595.60,121.44 C596.60,120.65 597.60,119.86 598.60,119.06 C599.60,118.27 600.60,117.46 601.60,116.65 C602.60,115.84 603.60,115.02 604.60,114.20 C605.60,113.37 606.60,112.54 607.60,111.71 C608.60,110.87 609.60,110.02 610.60,109.17 C611.60,108.32 612.60,107.47 613.60,106.60 C614.60,105.74 615.60,104.87 616.60,103.99 C617.60,103.12 618.60,102.24 619.60,101.35 C620.60,100.46 621.60,99.56 622.60,98.66 C623.60,97.75 624.60,96.84 625.60,95.92 C626.60,95.01 627.60,94.08 628.60,93.15 C629.60,92.22 630.60,91.28 631.60,90.34 C632.60,89.40 633.60,88.44 634.60,87.48 C635.60,86.53 636.60,85.56 637.60,84.59 C638.60,83.61 639.60,82.63 640.60,81.65 C641.60,80.66 642.60,79.67 643.60,78.66 C644.60,77.66 645.60,76.65 646.60,75.64 C647.60,74.62 648.60,73.60 649.60,72.57 C650.60,71.53 651.60,70.50 652.60,69.45 C653.60,68.40 654.60,67.35 655.60,66.29 C656.60,65.23 657.60,64.16 658.60,63.08 C659.60,62.01 660.60,60.92 661.60,59.83 C662.60,58.74 663.60,57.64 664.60,56.53 C665.60,55.42 666.60,54.31 667.60,53.18 C668.60,52.06 669.60,50.93 670.60,49.79 C671.60,48.65 672.60,47.50 673.60,46.35 C674.60,45.19 675.70,43.91 676.60,42.85 C677.50,41.80 678.60,40.50 679.00,40.02" fill="none" stroke="#dd2a2a" stroke-width="1.30" stroke-linejoin="round"/>
<path d="M385.60,192.40 C386.10,192.26 387.60,191.83 388.60,191.56 C389.60,191.29 390.60,191.03 391.60,190.79 C392.60,190.54 393.60,190.31 394.60,190.08 C395.60,189.85 396.60,189.64 397.60,189.43 C398.60,189.23 399.60,189.03 400.60,188.84 C401.60,188.65 402.60,188.47 403.60,188.29 C404.60,188.12 405.60,187.95 406.60,187.79 C407.60,187.62 408.60,187.47 409.60,187.32 C410.60,187.16 411.60,187.02 412.60,186.88 C413.60,186.74 414.60,186.60 415.60,186.47 C416.60,186.33 417.60,186.20 418.60,186.08 C419.60,185.95 420.60,185.83 421.60,185.70 C422.60,185.58 423.60,185.46 424.60,185.35 C425.60,185.23 426.60,185.11 427.60,185.00 C428.60,184.88 429.60,184.77 430.60,184.66 C431.60,184.54 432.60,184.43 433.60,184.32 C434.60,184.20 435.60,184.09 436.60,183.98 C437.60,183.87 438.60,183.75 439.60,183.64 C440.60,183.52 441.60,183.41 442.60,183.29 C443.60,183.16 444.60,183.04 445.60,182.91 C446.60,182.78 447.60,182.64 448.60,182.50 C449.60,182.37 450.60,182.22 451.60,182.07 C452.60,181.92 453.60,181.77 454.60,181.61 C455.60,181.45 456.60,181.28 457.60,181.11 C458.60,180.94 459.60,180.76 460.60,180.58 C461.60,180.39 462.60,180.20 463.60,180.01 C464.60,179.81 465.60,179.61 466.60,179.40 C467.60,179.19 468.60,178.98 469.60,178.76 C470.60,178.54 471.60,178.31 472.60,178.07 C473.60,177.84 474.60,177.59 475.60,177.35 C476.60,177.10 477.60,176.84 478.60,176.58 C479.60,176.32 480.60,176.05 481.60,175.77 C482.60,175.49 483.60,175.21 484.60,174.92 C485.60,174.63 486.60,174.33 487.60,174.02 C488.60,173.72 489.60,173.41 490.60,173.09 C491.60,172.77 492.60,172.44 493.60,172.11 C494.60,171.78 495.60,171.44 496.60,171.09 C497.60,170.74 498.60,170.40 499.60,170.02 C500.60,169.64 501.60,169.26 502.60,168.81 C503.60,168.36 504.60,167.85 505.60,167.34 C506.60,166.82 507.60,166.26 508.60,165.72 C509.60,165.17 510.60,164.60 511.60,164.07 C512.60,163.54 513.60,163.03 514.60,162.52 C515.60,162.01 516.60,161.60 517.60,161.00 C518.60,160.40 519.60,159.62 520.60,158.91 C521.60,158.21 522.60,157.40 523.60,156.75 C524.60,156.09 525.60,155.69 526.60,154.97 C527.60,154.25 528.60,153.36 529.60,152.42 C530.60,151.48 531.60,150.33 532.60,149.34 C533.60,148.35 534.60,147.27 535.60,146.47 C536.60,145.67 537.60,145.05 538.60,144.52 C539.60,143.98 540.60,143.65 541.60,143.25 C542.60,142.85 543.60,142.55 544.60,142.13 C545.60,141.70 546.60,141.23 547.60,140.71 C548.60,140.19 549.60,139.53 550.60,139.01 C551.60,138.48 552.60,138.04 553.60,137.59 C554.60,137.13 555.60,136.73 556.60,136.27 C557.60,135.82 558.60,135.38 559.60,134.86 C560.60,134.34 561.60,133.69 562.60,133.14 C563.60,132.59 564.60,131.96 565.60,131.55 C566.60,131.13 567.60,131.08 568.60,130.65 C569.60,130.23 570.60,129.65 571.60,129.01 C572.60,128.38 573.60,127.57 574.60,126.84 C575.60,126.12 576.60,125.39 577.60,124.66 C578.60,123.93 579.60,123.20 580.60,122.47 C581.60,121.74 582.60,121.00 583.60,120.26 C584.60,119.52 585.60,118.78 586.60,118.03 C587.60,117.29 588.60,116.54 589.60,115.78 C590.60,115.03 591.60,114.27 592.60,113.51 C593.60,112.75 594.60,111.98 595.60,111.21 C596.60,110.44 597.60,109.66 598.60,108.88 C599.60,108.09 600.60,107.31 601.60,106.51 C602.60,105.72 603.60,104.92 604.60,104.11 C605.60,103.30 606.60,102.49 607.60,101.67 C608.60,100.85 609.60,100.02 610.60,99.19 C611.60,98.35 612.60,97.51 613.60,96.66 C614.60,95.81 615.60,94.95 616.60,94.08 C617.60,93.21 618.60,92.33 619.60,91.45 C620.60,90.57 621.60,89.68 622.60,88.78 C623.60,87.89 624.60,87.00 625.60,86.10 C626.60,85.21 627.60,84.31 628.60,83.41 C629.60,82.51 630.60,81.60 631.60,80.70 C632.60,79.79 633.60,78.88 634.60,77.97 C635.60,77.05 636.60,76.14 637.60,75.22 C638.60,74.30 639.60,73.37 640.60,72.44 C641.60,71.52 642.60,70.59 643.60,69.65 C644.60,68.71 645.60,67.77 646.60,66.83 C647.60,65.88 648.60,64.93 649.60,63.98 C650.60,63.02 651.60,62.06 652.60,61.09 C653.60,60.13 654.60,59.16 655.60,58.18 C656.60,57.20 657.60,56.22 658.60,55.23 C659.60,54.23 660.60,53.24 661.60,52.23 C662.60,51.23 663.60,50.22 664.60,49.20 C665.60,48.18 666.60,47.15 667.60,46.11 C668.60,45.08 669.60,44.03 670.60,42.98 C671.60,41.93 672.60,40.87 673.60,39.80 C674.60,38.72 675.70,37.53 676.60,36.55 C677.50,35.57 678.60,34.35 679.00,33.91" fill="none" stroke="#9bcf5f" stroke-width="1.30" stroke-linejoin="round"/>
<path d="M385.60,192.40 C386.10,192.26 387.60,191.83 388.60,191.56 C389.60,191.29 390.60,191.03 391.60,190.79 C392.60,190.54 393.60,190.31 394.60,190.08 C395.60,189.85 396.60,189.64 397.60,189.43 C398.60,189.23 399.60,189.03 400.60,188.84 C401.60,188.65 402.60,188.47 403.60,188.29 C404.60,188.12 405.60,187.95 406.60,187.79 C407.60,187.62 408.60,187.47 409.60,187.32 C410.60,187.16 411.60,187.02 412.60,186.88 C413.60,186.74 414.60,186.60 415.60,186.47 C416.60,186.33 417.60,186.20 418.60,186.08 C419.60,185.95 420.60,185.83 421.60,185.70 C422.60,185.58 423.60,185.46 424.60,185.35 C425.60,185.23 426.60,185.11 427.60,185.00 C428.60,184.88 429.60,184.77 430.60,184.66 C431.60,184.54 432.60,184.43 433.60,184.32 C434.60,184.20 435.60,184.09 436.60,183.98 C437.60,183.87 438.60,183.75 439.60,183.64 C440.60,183.52 441.60,183.40 442.60,183.28 C443.60,183.15 444.60,183.02 445.60,182.88 C446.60,182.74 447.60,182.59 448.60,182.43 C449.60,182.28 450.60,182.12 451.60,181.95 C452.60,181.78 453.60,181.61 454.60,181.42 C455.60,181.24 456.60,181.06 457.60,180.86 C458.60,180.67 459.60,180.47 460.60,180.26 C461.60,180.06 462.60,179.84 463.60,179.63 C464.60,179.41 465.60,179.18 466.60,178.96 C467.60,178.73 468.60,178.49 469.60,178.25 C470.60,178.01 471.60,177.77 472.60,177.52 C473.60,177.27 474.60,177.02 475.60,176.76 C476.60,176.50 477.60,176.24 478.60,175.97 C479.60,175.71 480.60,175.44 481.60,175.17 C482.60,174.89 483.60,174.63 484.60,174.34 C485.60,174.04 486.60,173.74 487.60,173.41 C488.60,173.09 489.60,172.74 490.60,172.38 C491.60,172.02 492.60,171.64 493.60,171.24 C494.60,170.85 495.60,170.44 496.60,170.02 C497.60,169.61 498.60,169.17 499.60,168.73 C500.60,168.30 501.60,167.84 502.60,167.39 C503.60,166.93 504.60,166.47 505.60,166.00 C506.60,165.53 507.60,165.06 508.60,164.59 C509.60,164.11 510.60,163.64 511.60,163.16 C512.60,162.69 513.60,162.21 514.60,161.74 C515.60,161.27 516.60,160.82 517.60,160.33 C518.60,159.84 519.60,159.36 520.60,158.80 C521.60,158.24 522.60,157.60 523.60,156.97 C524.60,156.33 525.60,155.65 526.60,154.99 C527.60,154.33 528.60,153.65 529.60,153.02 C530.60,152.40 531.60,151.87 532.60,151.22 C533.60,150.57 534.60,149.90 535.60,149.11 C536.60,148.32 537.60,147.21 538.60,146.47 C539.60,145.72 540.60,144.90 541.60,144.64 C542.60,144.39 543.60,144.91 544.60,144.95 C545.60,145.00 546.60,145.13 547.60,144.89 C548.60,144.66 549.60,143.92 550.60,143.55 C551.60,143.19 552.60,143.11 553.60,142.71 C554.60,142.32 555.60,141.78 556.60,141.19 C557.60,140.60 558.60,139.85 559.60,139.17 C560.60,138.49 561.60,137.80 562.60,137.09 C563.60,136.39 564.60,135.68 565.60,134.95 C566.60,134.23 567.60,133.50 568.60,132.76 C569.60,132.02 570.60,131.28 571.60,130.52 C572.60,129.77 573.60,129.01 574.60,128.24 C575.60,127.47 576.60,126.69 577.60,125.91 C578.60,125.13 579.60,124.34 580.60,123.55 C581.60,122.76 582.60,121.96 583.60,121.16 C584.60,120.36 585.60,119.55 586.60,118.74 C587.60,117.93 588.60,117.12 589.60,116.30 C590.60,115.49 591.60,114.67 592.60,113.85 C593.60,113.03 594.60,112.21 595.60,111.38 C596.60,110.56 597.60,109.73 598.60,108.91 C599.60,108.08 600.60,107.26 601.60,106.42 C602.60,105.59 603.60,104.76 604.60,103.92 C605.60,103.08 606.60,102.24 607.60,101.39 C608.60,100.54 609.60,99.69 610.60,98.84 C611.60,97.98 612.60,97.12 613.60,96.26 C614.60,95.40 615.60,94.53 616.60,93.66 C617.60,92.78 618.60,91.91 619.60,91.03 C620.60,90.15 621.60,89.27 622.60,88.38 C623.60,87.49 624.60,86.60 625.60,85.70 C626.60,84.80 627.60,83.90 628.60,83.00 C629.60,82.09 630.60,81.18 631.60,80.27 C632.60,79.36 633.60,78.44 634.60,77.52 C635.60,76.59 636.60,75.67 637.60,74.73 C638.60,73.80 639.60,72.87 640.60,71.92 C641.60,70.98 642.60,70.04 643.60,69.09 C644.60,68.13 645.60,67.18 646.60,66.22 C647.60,65.26 648.60,64.29 649.60,63.32 C650.60,62.35 651.60,61.37 652.60,60.39 C653.60,59.40 654.60,58.41 655.60,57.42 C656.60,56.43 657.60,55.43 658.60,54.42 C659.60,53.41 660.60,52.40 661.60,51.38 C662.60,50.36 663.60,49.34 664.60,48.30 C665.60,47.27 666.60,46.23 667.60,45.18 C668.60,44.14 669.60,43.08 670.60,42.02 C671.60,40.96 672.60,39.89 673.60,38.81 C674.60,37.73 675.70,36.54 676.60,35.56 C677.50,34.57 678.60,33.35 679.00,32.91" fill="none" stroke="#f2c443" stroke-width="1.30" stroke-linejoin="round"/>
<path d="M47.2,3.5 V216.2 H341.3" stroke="#000" stroke-width="1.3" fill="none"/>
<path d="M47.2,3.5 H52" stroke="#000" stroke-width="1.3" fill="none"/>
<text x="43.6" y="7.9" text-anchor="end">1.020</text>
<path d="M47.2,39.2 H52" stroke="#000" stroke-width="1.3" fill="none"/>
<text x="43.6" y="43.6" text-anchor="end">1.015</text>
<path d="M47.2,77.3 H52" stroke="#000" stroke-width="1.3" fill="none"/>
<text x="43.6" y="81.7" text-anchor="end">1.010</text>
<path d="M47.2,115.8 H52" stroke="#000" stroke-width="1.3" fill="none"/>
<text x="43.6" y="120.2" text-anchor="end">1.005</text>
<path d="M47.2,154.0 H52" stroke="#000" stroke-width="1.3" fill="none"/>
<text x="43.6" y="158.4" text-anchor="end">1.000</text>
<path d="M47.2,192.5 H52" stroke="#000" stroke-width="1.3" fill="none"/>
<text x="43.6" y="196.9" text-anchor="end">0.995</text>
<text x="47.3" y="227.9" text-anchor="middle">0</text>
<path d="M75.8,216.2 V211" stroke="#000" stroke-width="1.3" fill="none"/>
<text x="76.7" y="227.9" text-anchor="middle">1</text>
<path d="M105.3,216.2 V211" stroke="#000" stroke-width="1.3" fill="none"/>
<text x="106.2" y="227.9" text-anchor="middle">2</text>
<path d="M134.7,216.2 V211" stroke="#000" stroke-width="1.3" fill="none"/>
<text x="135.6" y="227.9" text-anchor="middle">3</text>
<path d="M164.1,216.2 V211" stroke="#000" stroke-width="1.3" fill="none"/>
<text x="165.0" y="227.9" text-anchor="middle">4</text>
<path d="M193.6,216.2 V211" stroke="#000" stroke-width="1.3" fill="none"/>
<text x="194.5" y="227.9" text-anchor="middle">5</text>
<path d="M223.0,216.2 V211" stroke="#000" stroke-width="1.3" fill="none"/>
<text x="223.9" y="227.9" text-anchor="middle">6</text>
<path d="M252.4,216.2 V211" stroke="#000" stroke-width="1.3" fill="none"/>
<text x="253.3" y="227.9" text-anchor="middle">7</text>
<path d="M281.8,216.2 V211" stroke="#000" stroke-width="1.3" fill="none"/>
<text x="282.7" y="227.9" text-anchor="middle">8</text>
<path d="M311.3,216.2 V211" stroke="#000" stroke-width="1.3" fill="none"/>
<text x="312.2" y="227.9" text-anchor="middle">9</text>
<path d="M340.7,216.2 V211" stroke="#000" stroke-width="1.3" fill="none"/>
<text x="341.6" y="227.9" text-anchor="middle">10</text>
<text x="180" y="243.8" text-anchor="middle">Time(s)</text>
<text x="192" y="261.3" text-anchor="middle">(a) Generator speed during simulation 1 fault</text>
<text transform="translate(9.6,104.5) rotate(-90)" text-anchor="middle">Speed (Hz)</text>
<path d="M385.6,3.5 V216.2 H679.3" stroke="#000" stroke-width="1.3" fill="none"/>
<path d="M385.6,3.5 H390" stroke="#000" stroke-width="1.3" fill="none"/>
<text x="382.2" y="7.9" text-anchor="end">30</text>
<path d="M385.6,34.7 H390" stroke="#000" stroke-width="1.3" fill="none"/>
<text x="382.2" y="39.1" text-anchor="end">25</text>
<path d="M385.6,66.2 H390" stroke="#000" stroke-width="1.3" fill="none"/>
<text x="382.2" y="70.6" text-anchor="end">20</text>
<path d="M385.6,97.7 H390" stroke="#000" stroke-width="1.3" fill="none"/>
<text x="382.2" y="102.1" text-anchor="end">15</text>
<path d="M385.6,129.7 H390" stroke="#000" stroke-width="1.3" fill="none"/>
<text x="382.2" y="134.1" text-anchor="end">10</text>
<path d="M385.6,160.8 H390" stroke="#000" stroke-width="1.3" fill="none"/>
<text x="382.2" y="165.2" text-anchor="end">5</text>
<path d="M385.6,192.4 H390" stroke="#000" stroke-width="1.3" fill="none"/>
<text x="382.2" y="196.8" text-anchor="end">0</text>
<text x="385.4" y="227.9" text-anchor="middle">0</text>
<path d="M413.9,216.2 V211" stroke="#000" stroke-width="1.3" fill="none"/>
<text x="414.8" y="227.9" text-anchor="middle">1</text>
<path d="M443.3,216.2 V211" stroke="#000" stroke-width="1.3" fill="none"/>
<text x="444.2" y="227.9" text-anchor="middle">2</text>
<path d="M472.8,216.2 V211" stroke="#000" stroke-width="1.3" fill="none"/>
<text x="473.7" y="227.9" text-anchor="middle">3</text>
<path d="M502.2,216.2 V211" stroke="#000" stroke-width="1.3" fill="none"/>
<text x="503.1" y="227.9" text-anchor="middle">4</text>
<path d="M531.6,216.2 V211" stroke="#000" stroke-width="1.3" fill="none"/>
<text x="532.5" y="227.9" text-anchor="middle">5</text>
<path d="M561.0,216.2 V211" stroke="#000" stroke-width="1.3" fill="none"/>
<text x="561.9" y="227.9" text-anchor="middle">6</text>
<path d="M590.4,216.2 V211" stroke="#000" stroke-width="1.3" fill="none"/>
<text x="591.3" y="227.9" text-anchor="middle">7</text>
<path d="M619.9,216.2 V211" stroke="#000" stroke-width="1.3" fill="none"/>
<text x="620.8" y="227.9" text-anchor="middle">8</text>
<path d="M649.3,216.2 V211" stroke="#000" stroke-width="1.3" fill="none"/>
<text x="650.2" y="227.9" text-anchor="middle">9</text>
<path d="M678.7,216.2 V211" stroke="#000" stroke-width="1.3" fill="none"/>
<text x="679.6" y="227.9" text-anchor="middle">10</text>
<text x="541" y="244" text-anchor="middle">Time(s)</text>
<text x="541" y="259.8" text-anchor="middle">(b) Generator rotor angle during simulation 1 fault</text>
<text transform="translate(361.3,107.4) rotate(-90)" text-anchor="middle">Rotor angle (rad)</text>
<rect x="54.5" y="7.0" width="136.7" height="57.3" fill="#fff" stroke="#000" stroke-width="1.3"/>
<path d="M59.4,15.0 H80.4" stroke="#2f7dc1" stroke-width="1.5"/>
<text class="lg" x="80.4" y="18.7" font-size="12.4">G1&lt;Rotor speed(pu)&gt;</text>
<path d="M59.4,25.4 H80.4" stroke="#111111" stroke-width="1.5"/>
<text class="lg" x="80.4" y="29.1" font-size="12.4">G2&lt;Rotor speed(pu)&gt;</text>
<path d="M59.4,35.9 H80.4" stroke="#e8893a" stroke-width="1.5"/>
<text class="lg" x="80.4" y="39.6" font-size="12.4">G3&lt;Rotor speed(pu)&gt;</text>
<path d="M59.4,46.3 H80.4" stroke="#7b4aae" stroke-width="1.5"/>
<text class="lg" x="80.4" y="50.0" font-size="12.4">G4&lt;Rotor speed(pu)&gt;</text>
<path d="M59.4,56.8 H80.4" stroke="#27a862" stroke-width="1.5"/>
<text class="lg" x="80.4" y="60.5" font-size="12.4">G5&lt;Rotor speed(pu)&gt;</text>
<rect x="179.5" y="141.5" width="144.5" height="57.4" fill="#fff" stroke="#000" stroke-width="1.3"/>
<path d="M184.7,150.2 H205.1" stroke="#33b0e5" stroke-width="1.5"/>
<text class="lg" x="205.3" y="153.9" font-size="12.4">G6&lt;Rotor speed(pu)&gt;</text>
<path d="M184.7,160.6 H205.1" stroke="#ee82d0" stroke-width="1.5"/>
<text class="lg" x="205.3" y="164.3" font-size="12.4">G7&lt;Rotor speed(pu)&gt;</text>
<path d="M184.7,171.0 H205.1" stroke="#dd2a2a" stroke-width="1.5"/>
<text class="lg" x="205.3" y="174.7" font-size="12.4">G8&lt;Rotor speed(pu)&gt;</text>
<path d="M184.7,181.4 H205.1" stroke="#9bcf5f" stroke-width="1.5"/>
<text class="lg" x="205.3" y="185.1" font-size="12.4">G9&lt;Rotor speed(pu)&gt;</text>
<path d="M184.7,191.8 H205.1" stroke="#f2c443" stroke-width="1.5"/>
<text class="lg" x="205.3" y="195.5" font-size="12.4">G10&lt;Rotor speed(pu)&gt;</text>
<rect x="396.8" y="6.8" width="142.4" height="112.4" fill="#fff" stroke="#000" stroke-width="1.3"/>
<path d="M401.6,14.8 H421.8" stroke="#2f7dc1" stroke-width="1.5"/>
<text class="lg" x="422.6" y="18.5" font-size="12.4">G1&lt;Rotor speed(pu)&gt;</text>
<path d="M401.6,25.3 H421.8" stroke="#111111" stroke-width="1.5"/>
<text class="lg" x="422.6" y="29.0" font-size="12.4">G2&lt;Rotor speed(pu)&gt;</text>
<path d="M401.6,35.8 H421.8" stroke="#e8893a" stroke-width="1.5"/>
<text class="lg" x="422.6" y="39.5" font-size="12.4">G3&lt;Rotor speed(pu)&gt;</text>
<path d="M401.6,46.2 H421.8" stroke="#7b4aae" stroke-width="1.5"/>
<text class="lg" x="422.6" y="49.9" font-size="12.4">G4&lt;Rotor speed(pu)&gt;</text>
<path d="M401.6,56.7 H421.8" stroke="#27a862" stroke-width="1.5"/>
<text class="lg" x="422.6" y="60.4" font-size="12.4">G5&lt;Rotor speed(pu)&gt;</text>
<path d="M401.6,67.2 H421.8" stroke="#33b0e5" stroke-width="1.5"/>
<text class="lg" x="422.6" y="70.9" font-size="12.4">G6&lt;Rotor speed(pu)&gt;</text>
<path d="M401.6,77.7 H421.8" stroke="#ee82d0" stroke-width="1.5"/>
<text class="lg" x="422.6" y="81.4" font-size="12.4">G7&lt;Rotor speed(pu)&gt;</text>
<path d="M401.6,88.2 H421.8" stroke="#dd2a2a" stroke-width="1.5"/>
<text class="lg" x="422.6" y="91.9" font-size="12.4">G8&lt;Rotor speed(pu)&gt;</text>
<path d="M401.6,98.6 H421.8" stroke="#9bcf5f" stroke-width="1.5"/>
<text class="lg" x="422.6" y="102.3" font-size="12.4">G9&lt;Rotor speed(pu)&gt;</text>
<path d="M401.6,109.1 H421.8" stroke="#f2c443" stroke-width="1.5"/>
<text class="lg" x="422.6" y="112.8" font-size="12.4">G10&lt;Rotor speed(pu)&gt;</text>
</svg></body></html>
